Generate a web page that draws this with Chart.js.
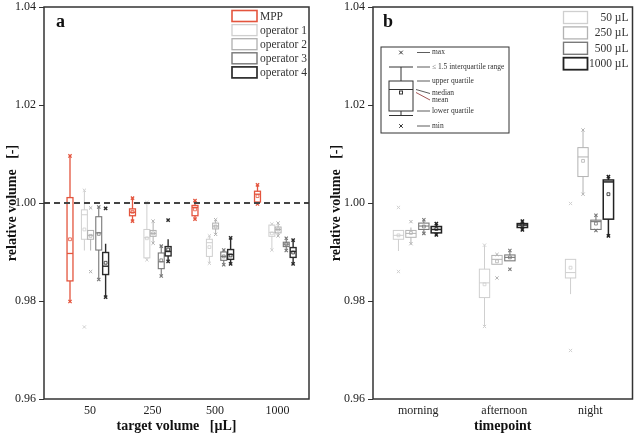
<!DOCTYPE html>
<html lang="en">
<head>
<meta charset="UTF-8">
<title>Relative volume - box plots</title>
<script src="https://cdn.jsdelivr.net/npm/chart.js"></script>
<style>
body { margin: 0; background: #ffffff; }
#wrap { position: relative; width: 638px; height: 435px; }
canvas { position: absolute; top: 0; }
#chartA { left: 0; }
#chartB { left: 319px; }
</style>
</head>
<body>
<div id="wrap">
<canvas id="chartA" width="319" height="435"></canvas>
<canvas id="chartB" width="319" height="435"></canvas>
</div>
<script>
// ---- panel a: target volume vs pipetting source ----
const volumeLabels = ['50', '250', '500', '1000'];
const operatorNames = ['MPP', 'operator 1', 'operator 2', 'operator 3', 'operator 4'];

// each box: [whisker low, q1, median, q3, whisker high, mean]
const mppBoxes = [[0.9799, 0.9841, 0.9897, 1.0011, 1.0096, 0.9926], [0.9963, 0.9974, 0.9981, 0.9988, 1.0010, 0.9982],
  [0.9967, 0.9974, 0.9991, 0.9995, 1.0005, 0.9987], [0.9998, 1.0002, 1.0018, 1.0024, 1.0037, 1.0014]];
const op1Boxes = [[0.9903, 0.9926, 0.9976, 0.9986, 1.0026, 0.9946], [0.9884, 0.9888, 0.9929, 0.9946, 1.0001, 0.9928],
  [0.9877, 0.9891, 0.9919, 0.9926, 0.9933, 0.9910], [0.9904, 0.9932, 0.9940, 0.9955, 0.9957, 0.9938]];
const op2Boxes = [[0.9903, 0.9926, 0.9934, 0.9944, 0.9944, 0.9933], [0.9918, 0.9932, 0.9938, 0.9944, 0.9963, 0.9938],
  [0.9936, 0.9947, 0.9953, 0.9959, 0.9966, 0.9952], [0.9933, 0.9939, 0.9946, 0.9951, 0.9959, 0.9946]];
const op3Boxes = [[0.9844, 0.9904, 0.9939, 0.9972, 0.9992, 0.9937], [0.9851, 0.9866, 0.9880, 0.9898, 0.9912, 0.9883],
  [0.9874, 0.9883, 0.9891, 0.9900, 0.9904, 0.9891], [0.9903, 0.9911, 0.9916, 0.9920, 0.9928, 0.9916]];
const op4Boxes = [[0.9808, 0.9854, 0.9871, 0.9899, 0.9917, 0.9878], [0.9881, 0.9892, 0.9901, 0.9911, 0.9926, 0.9905],
  [0.9876, 0.9885, 0.9895, 0.9905, 0.9929, 0.9893], [0.9876, 0.9889, 0.9901, 0.9909, 0.9924, 0.9899]];

// min / max markers (x) per group
const mppMarks = [[0.9799, 1.0096], [0.9963, 1.0010], [0.9967, 1.0005], [0.9998, 1.0037]];
const op1Marks = [[0.9747, 1.0026], [0.9884, 1.0001], [0.9877, 0.9933], [0.9904, 0.9957]];
const op2Marks = [[0.9860, 0.9990], [0.9918, 0.9963], [0.9936, 0.9966], [0.9933, 0.9959]];
const op3Marks = [[0.9844, 0.9992], [0.9851, 0.9912], [0.9874, 0.9904], [0.9903, 0.9928]];
const op4Marks = [[0.9808, 0.9989], [0.9881, 0.9965], [0.9876, 0.9929], [0.9876, 0.9924]];

// ---- panel b: timepoint vs volume ----
const timeLabels = ['morning', 'afternoon', 'night'];
const volumeNames = ['50 \u00b5L', '250 \u00b5L', '500 \u00b5L', '1000 \u00b5L'];

const v50Boxes = [[0.9902, 0.9926, 0.9934, 0.9944, 0.9944, 0.9934], [0.9748, 0.9807, 0.9837, 0.9865, 0.9914, 0.9834],
  [0.9814, 0.9847, 0.9858, 0.9885, 0.9885, 0.9868]];
const v250Boxes = [[0.9917, 0.9930, 0.9938, 0.9944, 0.9950, 0.9939], [0.9875, 0.9875, 0.9885, 0.9893, 0.9895, 0.9881],
  [1.0018, 1.0054, 1.0094, 1.0113, 1.0149, 1.0086]];
const v500Boxes = [[0.9938, 0.9946, 0.9953, 0.9959, 0.9966, 0.9952], [0.9882, 0.9882, 0.9889, 0.9894, 0.9903, 0.9889],
  [0.9944, 0.9946, 0.9962, 0.9965, 0.9975, 0.9958]];
const v1000Boxes = [[0.9935, 0.9939, 0.9946, 0.9952, 0.9958, 0.9947], [0.9945, 0.9950, 0.9955, 0.9958, 0.9963, 0.9955],
  [0.9933, 0.9967, 1.0043, 1.0047, 1.0054, 1.0018]];

const v50Marks = [[0.9860, 0.9991], [0.9748, 0.9914], [0.9699, 0.9999]];
const v250Marks = [[0.9917, 0.9962], [0.9847, 0.9895], [1.0018, 1.0149]];
const v500Marks = [[0.9938, 0.9966], [0.9865, 0.9903], [0.9944, 0.9975]];
const v1000Marks = [[0.9935, 0.9958], [0.9945, 0.9963], [0.9933, 1.0054]];

const yTicks = [0.96, 0.98, 1.00, 1.02, 1.04];

// styling
const colorsA = ['#e4553e', '#cfcfcf', '#b0b0b0', '#777777', '#2b2b2b'];
const offsetsA = [-0.32, -0.09, 0.01, 0.14, 0.25];
const widthsA = [1.3, 1, 1, 1.1, 1.4];
const colorsB = ['#cfcfcf', '#b3b3b3', '#7a7a7a', '#222222'];
const offsetsB = [-0.23, -0.085, 0.065, 0.21];
const widthsB = [1, 1, 1.1, 1.5];

Chart.defaults.font.family = "'Liberation Serif', serif";
Chart.defaults.color = '#222';

const seriesA = [mppBoxes, op1Boxes, op2Boxes, op3Boxes, op4Boxes].map((boxes, i) => ({
  name: operatorNames[i], boxes, marks: [mppMarks, op1Marks, op2Marks, op3Marks, op4Marks][i],
  color: colorsA[i], offset: offsetsA[i], lw: widthsA[i]
}));
const seriesB = [v50Boxes, v250Boxes, v500Boxes, v1000Boxes].map((boxes, i) => ({
  name: volumeNames[i], boxes, marks: [v50Marks, v250Marks, v500Marks, v1000Marks][i],
  color: colorsB[i], offset: offsetsB[i], lw: widthsB[i]
}));

function buildDatasets(series) {
  const sets = [];
  series.forEach(s => {
    sets.push({
      data: s.boxes.map((b, i) => ({ x: i + 1 + s.offset, y: b[5] })),
      pointStyle: 'rect', radius: 2, borderColor: s.color, backgroundColor: 'rgba(0,0,0,0)', borderWidth: 0.8
    });
    sets.push({
      data: s.marks.flatMap((m, i) => m.map(v => ({ x: i + 1 + s.offset, y: v }))),
      pointStyle: 'crossRot', radius: 2.3, borderColor: s.color, borderWidth: s.lw
    });
  });
  return sets;
}

// draws whiskers, boxes and medians from the stats arrays
function boxPlugin(series, boxWidth) {
  return {
    id: 'boxes',
    beforeDatasetsDraw(chart) {
      const { ctx, scales: { x, y } } = chart;
      series.forEach(s => {
        s.boxes.forEach((b, i) => {
          const pos = i + 1 + s.offset;
          const cx = x.getPixelForValue(pos);
          const half = x.getPixelForValue(pos + boxWidth / 2) - cx;
          const [lo, q1, med, q3, hi] = b.map(v => y.getPixelForValue(v));
          ctx.save();
          ctx.strokeStyle = s.color;
          ctx.lineWidth = s.lw;
          ctx.beginPath();
          ctx.moveTo(cx, lo); ctx.lineTo(cx, q1);
          ctx.moveTo(cx, q3); ctx.lineTo(cx, hi);
          ctx.stroke();
          ctx.strokeRect(cx - half, q3, 2 * half, q1 - q3);
          ctx.beginPath();
          ctx.moveTo(cx - half, med); ctx.lineTo(cx + half, med);
          ctx.stroke();
          ctx.restore();
        });
      });
    }
  };
}

const framePlugin = {
  id: 'frame',
  afterDraw(chart) {
    const { ctx, chartArea: a } = chart;
    ctx.save();
    ctx.strokeStyle = '#333';
    ctx.lineWidth = 1.5;
    ctx.strokeRect(a.left, a.top, a.right - a.left, a.bottom - a.top);
    ctx.restore();
  }
};

function panelLetter(ctx, text, x, y) {
  ctx.save();
  ctx.font = "bold 18px 'Liberation Serif'";
  ctx.fillStyle = '#111';
  ctx.textBaseline = 'alphabetic';
  ctx.fillText(text, x, y);
  ctx.restore();
}

function legendBoxes(ctx, series, bx, top, step, bw, bh, textX, align) {
  ctx.save();
  ctx.font = "11.5px 'Liberation Serif'";
  ctx.textBaseline = 'middle';
  ctx.textAlign = align;
  series.forEach((s, i) => {
    const cy = top + i * step;
    ctx.strokeStyle = s.color;
    ctx.lineWidth = s.lw + 0.3;
    ctx.strokeRect(bx, cy - bh / 2, bw, bh);
    ctx.fillStyle = '#333';
    ctx.fillText(s.name, textX, cy + 0.5);
  });
  ctx.restore();
}

function yScale(titlePad, width) {
  return {
    min: 0.96, max: 1.04,
    afterBuildTicks: s => { s.ticks = yTicks.map(v => ({ value: v })); },
    afterFit: s => { s.width = width; s.paddingTop = 0; s.paddingBottom = 0; },
    ticks: { callback: v => v.toFixed(2), font: { size: 12 }, padding: 3, color: '#222' },
    grid: { display: true, drawOnChartArea: false, drawTicks: true, tickLength: 5, color: '#333', lineWidth: 1 },
    border: { display: false },
    title: { display: true, text: 'relative volume   [-]', font: { size: 14, weight: 'bold' }, color: '#111',
      padding: { top: titlePad, bottom: 0 } }
  };
}

function xScale(min, max, labels, title) {
  return {
    type: 'linear', min, max,
    afterBuildTicks: s => { s.ticks = labels.map((l, i) => ({ value: i + 1 })); },
    afterFit: s => { s.height = 36; s.paddingLeft = 0; s.paddingRight = 0; },
    ticks: { callback: v => labels[Math.round(v) - 1], font: { size: 12 }, padding: 5, maxRotation: 0, color: '#222' },
    grid: { display: false, drawTicks: false },
    border: { display: false },
    title: { display: true, text: title, font: { size: 14, weight: 'bold' }, color: '#111',
      padding: { top: 0, bottom: 0 } }
  };
}

// ---- chart a ----
new Chart(document.getElementById('chartA'), {
  type: 'scatter',
  data: { datasets: buildDatasets(seriesA) },
  options: {
    responsive: false, animation: false, devicePixelRatio: 1,
    layout: { padding: { top: 7, right: 10, left: 0, bottom: 0 } },
    plugins: { legend: { display: false }, tooltip: { enabled: false } },
    scales: { x: xScale(0.264, 4.504, volumeLabels, 'target volume   [\u00b5L]'), y: yScale(4, 44) }
  },
  plugins: [boxPlugin(seriesA, 0.095), framePlugin, {
    id: 'extrasA',
    afterDatasetsDraw(chart) {
      const { ctx, chartArea: a, scales: { y } } = chart;
      const py = y.getPixelForValue(1.0);
      ctx.save();
      ctx.strokeStyle = '#444';
      ctx.lineWidth = 2;
      ctx.setLineDash([6, 4]);
      ctx.beginPath();
      ctx.moveTo(a.left, py); ctx.lineTo(a.right, py);
      ctx.stroke();
      ctx.restore();
    },
    afterDraw(chart) {
      const { ctx, chartArea: a } = chart;
      panelLetter(ctx, 'a', a.left + 12, a.top + 20);
      legendBoxes(ctx, seriesA, a.right - 77, a.top + 9, 14.1, 25, 11, a.right - 49, 'left');
    }
  }]
});

// ---- chart b ----
new Chart(document.getElementById('chartB'), {
  type: 'scatter',
  data: { datasets: buildDatasets(seriesB) },
  options: {
    responsive: false, animation: false, devicePixelRatio: 1,
    layout: { padding: { top: 7, right: 1, left: 0, bottom: 0 } },
    plugins: { legend: { display: false }, tooltip: { enabled: false } },
    scales: { x: xScale(0.474, 3.49, timeLabels, 'timepoint'), y: yScale(8.5, 54) }
  },
  plugins: [boxPlugin(seriesB, 0.12), framePlugin, {
    id: 'extrasB',
    afterDraw(chart) {
      const { ctx, chartArea: a } = chart;
      panelLetter(ctx, 'b', a.left + 10, a.top + 20);
      legendBoxes(ctx, seriesB, a.right - 69, a.top + 10.5, 15.4, 24, 12, a.right - 4, 'right');

      // explanatory inset for box elements
      const L = a.left, T = a.top;
      ctx.save();
      ctx.strokeStyle = '#333';
      ctx.lineWidth = 1;
      ctx.strokeRect(L + 8, T + 40, 128, 86);
      const cx = L + 28;
      ctx.beginPath();
      ctx.moveTo(L + 16, T + 60); ctx.lineTo(L + 40, T + 60);
      ctx.moveTo(cx, T + 60); ctx.lineTo(cx, T + 74);
      ctx.moveTo(cx, T + 104); ctx.lineTo(cx, T + 108.5);
      ctx.moveTo(L + 16, T + 108.5); ctx.lineTo(L + 40, T + 108.5);
      ctx.moveTo(L + 16, T + 82.5); ctx.lineTo(L + 40, T + 82.5);
      ctx.stroke();
      ctx.strokeRect(L + 16, T + 74, 24, 30);
      ctx.strokeRect(cx - 1.5, T + 84, 3, 3);
      // x markers for max and min
      [T + 45.5, T + 119].forEach(py => {
        ctx.beginPath();
        ctx.moveTo(cx - 1.8, py - 1.8); ctx.lineTo(cx + 1.8, py + 1.8);
        ctx.moveTo(cx + 1.8, py - 1.8); ctx.lineTo(cx - 1.8, py + 1.8);
        ctx.stroke();
      });
      // pointer lines
      ctx.lineWidth = 0.8;
      ctx.beginPath();
      [45.5, 60, 74, 104, 119].forEach(dy => { ctx.moveTo(L + 44, T + dy); ctx.lineTo(L + 57, T + dy); });
      ctx.moveTo(L + 43, T + 82.5); ctx.lineTo(L + 57, T + 86.5);
      ctx.stroke();
      ctx.strokeStyle = '#8a2a2a';
      ctx.beginPath();
      ctx.moveTo(L + 43, T + 85.5); ctx.lineTo(L + 57, T + 93);
      ctx.stroke();
      ctx.fillStyle = '#333';
      ctx.font = "7.5px 'Liberation Serif'";
      ctx.textBaseline = 'middle';
      const notes = [['max', 45.5], ['\u2264 1.5 interquartile range', 60], ['upper quartile', 74],
        ['median', 86.5], ['mean', 93], ['lower quartile', 104], ['min', 119]];
      notes.forEach(([t, dy]) => ctx.fillText(t, L + 59, T + dy));
      ctx.restore();
    }
  }]
});
</script>
</body>
</html>
